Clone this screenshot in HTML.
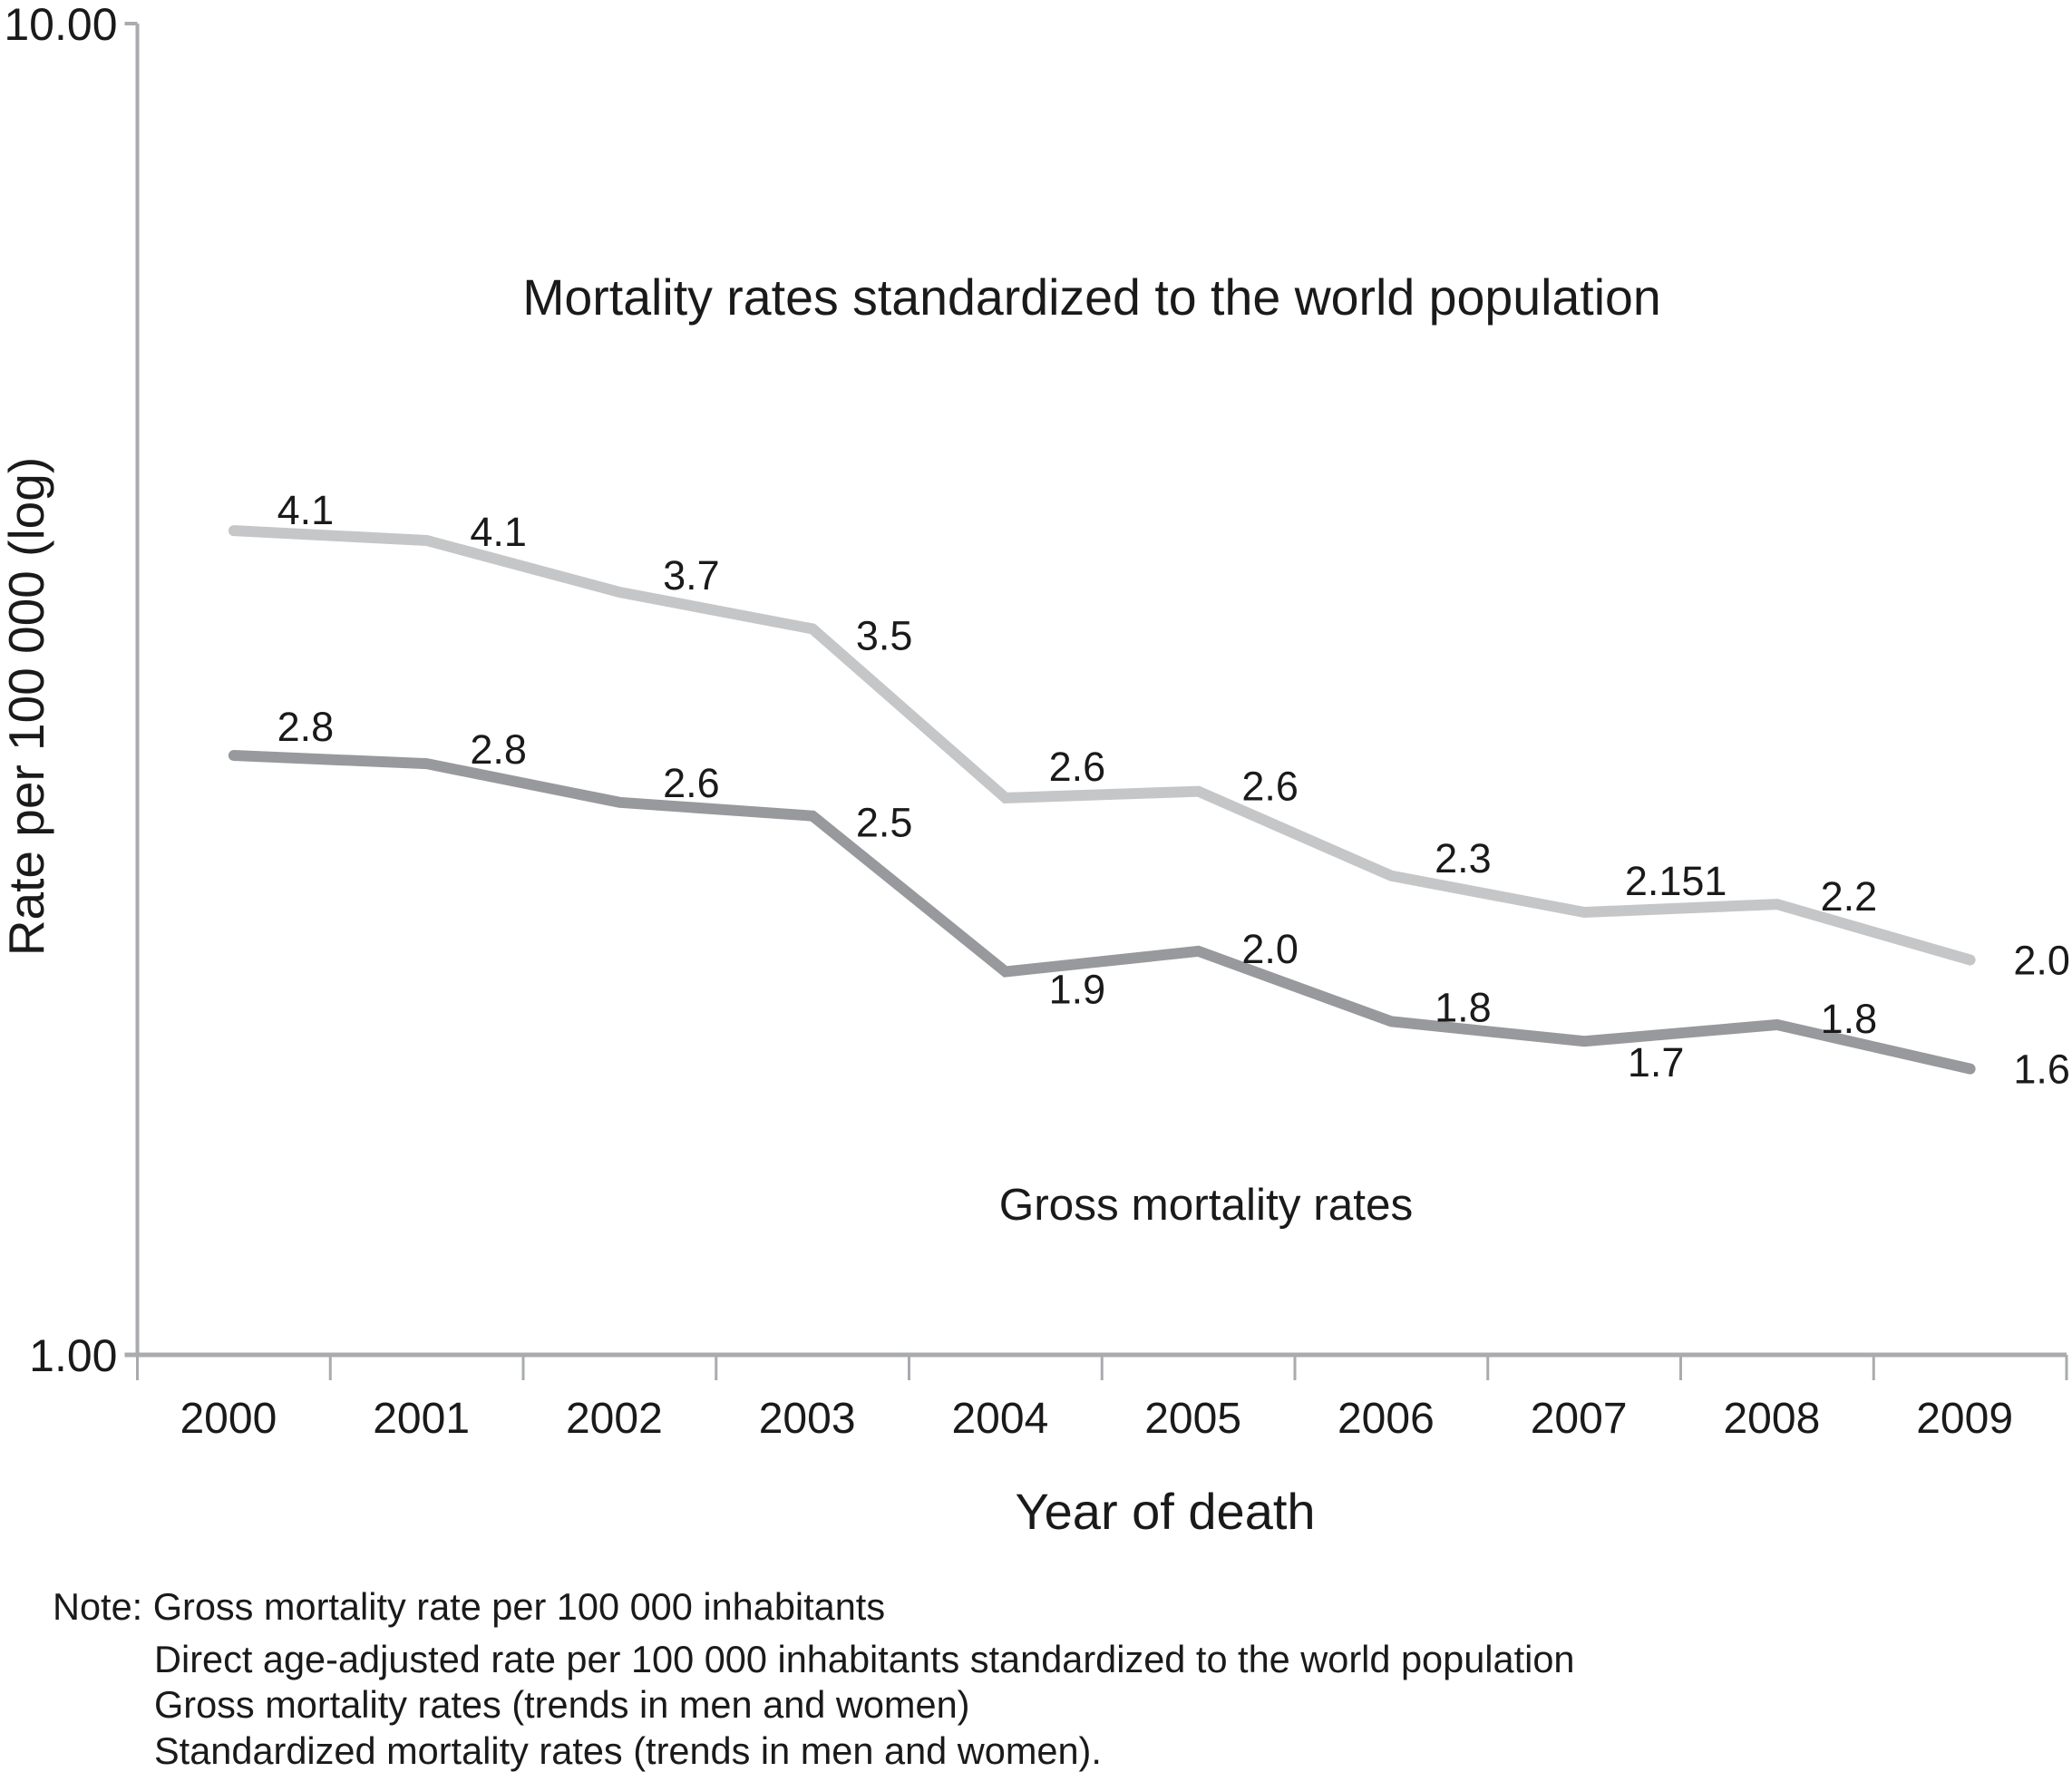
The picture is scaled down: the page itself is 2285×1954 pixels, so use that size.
<!DOCTYPE html>
<html><head><meta charset="utf-8"><style>
html,body{margin:0;padding:0;background:#fff;}
svg{display:block;font-family:"Liberation Sans",Arial,sans-serif;fill:#1a1a1a;}
</style></head><body>
<svg id="chart" width="2285" height="1954" viewBox="0 0 2285 1954" xmlns="http://www.w3.org/2000/svg">
<g id="axes"></g>
<g id="series"></g>
<g id="labels"></g>
<text x="0" y="0" font-size="55" text-anchor="middle" transform="translate(48,779) rotate(-90)">Rate per 100 000 (log)</text>
<text x="1285" y="1686" font-size="56" text-anchor="middle">Year of death</text>
<text x="1204" y="347" font-size="55.5" text-anchor="middle">Mortality rates standardized to the world population</text>
<text x="1330" y="1345" font-size="49.5" text-anchor="middle">Gross mortality rates</text>
<g font-size="41.5">
<text x="58" y="1786">Note: Gross mortality rate per 100 000 inhabitants</text>
<text x="170" y="1844">Direct age-adjusted rate per 100 000 inhabitants standardized to the world population</text>
<text x="170" y="1894">Gross mortality rates (trends in men and women)</text>
<text x="170" y="1945">Standardized mortality rates (trends in men and women).</text>
</g>
</svg>
<script>
const years = ["2000","2001","2002","2003","2004","2005","2006","2007","2008","2009"];
const standardized = [4.16,4.09,3.74,3.51,2.62,2.65,2.29,2.15,2.18,1.98];
const gross = [2.82,2.78,2.60,2.54,1.94,2.01,1.78,1.72,1.77,1.64];
const standardizedLabels = ["4.1","4.1","3.7","3.5","2.6","2.6","2.3","2.151","2.2","2.0"];
const grossLabels = ["2.8","2.8","2.6","2.5","1.9","2.0","1.8","1.7","1.8","1.6"];
const yTicks = [1, 10];
const yTickLabels = ["1.00","10.00"];

const NS = "http://www.w3.org/2000/svg";
const X0 = 151.5, X1 = 2279, Y0 = 1494, Y1 = 26;
const step = (X1 - X0) / years.length;
function xScale(i){ return X0 + step * (i + 0.5); }
function yScale(v){ return Y0 - Math.log10(v) * (Y0 - Y1); }
function mk(tag, attrs, parent){ const e = document.createElementNS(NS, tag); for (const k in attrs) e.setAttribute(k, attrs[k]); parent.appendChild(e); return e; }

const axes = document.getElementById('axes');
let e = mk('line', {x1:X0, y1:Y1, x2:X0, y2:Y0, stroke:'#a9abae', 'stroke-width':4}, axes);


e = mk('line', {x1:X0-14, y1:Y0, x2:X1, y2:Y0, stroke:'#a9abae', 'stroke-width':5}, axes);


yTicks.forEach((v, i) => {
  const y = yScale(v);
  const t = mk('line', {x1:X0-14, y1:y, x2:X0, y2:y, stroke:'#a9abae', 'stroke-width':4}, axes);
  
  
  const l = mk('text', {x:X0-22, y:y+18, 'font-size':50, 'text-anchor':'end'}, axes);
  l.textContent = yTickLabels[i];
  
  
});
for (let i = 0; i <= years.length; i++) {
  const x = X0 + step * i;
  const t = mk('line', {x1:x, y1:Y0, x2:x, y2:Y0+28, stroke:'#a9abae', 'stroke-width':3}, axes);
  
  
}
years.forEach((yr, i) => {
  const l = mk('text', {x:xScale(i)-6, y:1580, 'font-size':48, 'text-anchor':'middle'}, axes);
  l.textContent = yr;
  
  
});

const series = document.getElementById('series');
function drawLine(vals, color, name){
  const pts = vals.map((v, i) => xScale(i) + ',' + yScale(v)).join(' ');
  const p = mk('polyline', {points:pts, fill:'none', stroke:color, 'stroke-width':12, 'stroke-linejoin':'miter', 'stroke-linecap':'round'}, series);
  
  
}
drawLine(standardized, '#c4c6c8', 'standardized-rate-line');
drawLine(gross, '#97999c', 'gross-rate-line');

const labels = document.getElementById('labels');
const stdDy = [-23,-10,-19,7,-35,-6,-20,-35,-9,0];
const grossDy = [-32,-16,-22,7,19,-3,-16,23,-7,0];
function drawLabels(vals, texts, dys, name){
  vals.forEach((v, i) => {
    const t = mk('text', {x:xScale(i)+79 + (texts[i].length>3?22:0), y:yScale(v)+dys[i]+16, 'font-size':45, 'text-anchor':'middle'}, labels);
    t.textContent = texts[i];
    
    
  });
}
drawLabels(standardized, standardizedLabels, stdDy, 'standardized-value-label');
drawLabels(gross, grossLabels, grossDy, 'gross-value-label');
</script>
</body></html>
